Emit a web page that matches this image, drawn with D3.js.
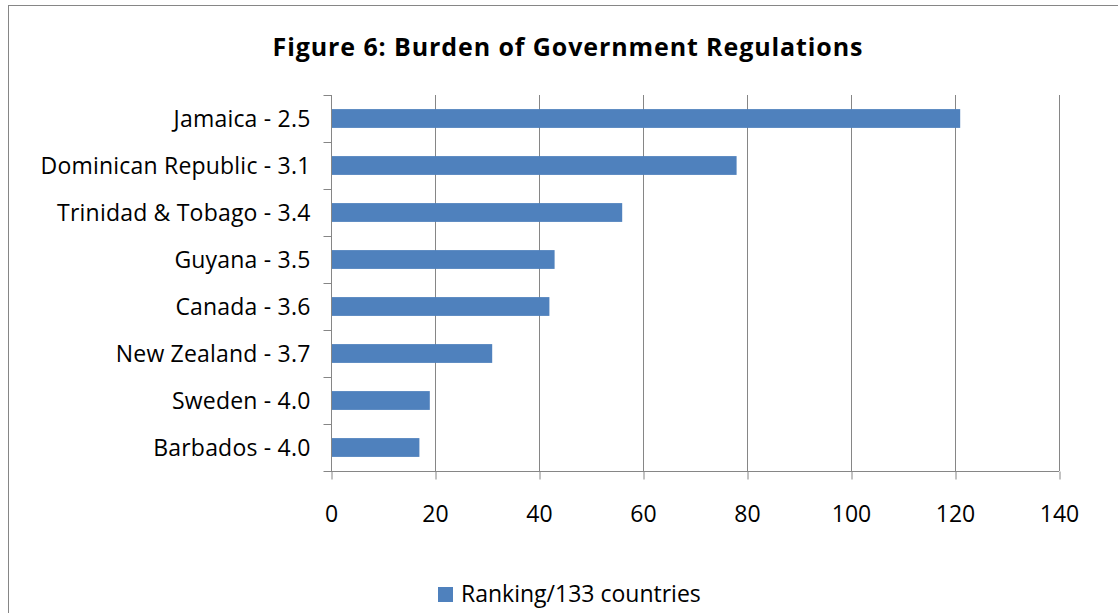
<!DOCTYPE html>
<html><head><meta charset="utf-8">
<script src="https://cdn.jsdelivr.net/npm/d3@7"></script>
<style>body{margin:0;background:#fff}svg{display:block}text{font-family:"Open Sans",sans-serif}</style>
</head><body>
<svg id="c" width="1118" height="613"></svg>
<script>
const categories = ["Jamaica - 2.5","Dominican Republic - 3.1","Trinidad & Tobago - 3.4","Guyana - 3.5","Canada - 3.6","New Zealand - 3.7","Sweden - 4.0","Barbados - 4.0"];
const values = [121, 78, 56, 43, 42, 31, 19, 17];
const xTicks = [0,20,40,60,80,100,120,140];
const seriesName = "Ranking/133 countries";
const title = "Figure 6: Burden of Government Regulations";

const svg = d3.select("#c");
const color = "#4f81bd", grid = "#868686";
svg.append("rect").attr("x",8.5).attr("y",5.5).attr("width",1130).attr("height",640).attr("fill","none").attr("stroke","#868686");

const m = {l:331, r:1059, t:95, b:471};
const x = d3.scaleLinear().domain([0,140]).range([m.l,m.r]);
const y = d3.scaleBand().domain(categories).range([m.t,m.b]).paddingInner(0.6).paddingOuter(0.3);

svg.append("g").selectAll("line").data(xTicks.slice(1)).join("line")
  .attr("x1",d=>x(d)+0.5).attr("x2",d=>x(d)+0.5).attr("y1",m.t).attr("y2",m.b)
  .attr("stroke",grid).attr("stroke-width",1);

svg.append("g").selectAll("rect").data(values).join("rect")
  .attr("x",x(0)).attr("y",(d,i)=>y(categories[i]))
  .attr("width",d=>x(d)-x(0)).attr("height",y.bandwidth()).attr("fill",color);

const xa = svg.append("g").attr("transform",`translate(0,${m.b+0.5})`)
  .call(d3.axisBottom(x).tickValues(xTicks).tickSize(8).tickPadding(26));
xa.select(".domain").attr("stroke",grid).attr("d",`M${m.l},0H${m.r}`);
xa.selectAll(".tick line").attr("stroke",grid).attr("transform","translate(0.5,0)");
xa.selectAll(".tick text").attr("font-size",23).attr("fill","#000").attr("font-family","Open Sans");

const step = (m.b-m.t)/categories.length;
const ya = svg.append("g").attr("transform",`translate(${m.l+0.5},0)`);
ya.append("line").attr("x1",0).attr("x2",0).attr("y1",m.t).attr("y2",m.b).attr("stroke",grid);
ya.selectAll("line.t").data(d3.range(categories.length+1)).join("line").attr("class","t")
  .attr("x1",-8).attr("x2",0).attr("y1",i=>m.t+i*step+0.5).attr("y2",i=>m.t+i*step+0.5).attr("stroke",grid);
ya.selectAll("text").data(categories).join("text")
  .attr("x",-21).attr("y",d=>y(d)+y.bandwidth()/2).attr("dy","0.36em")
  .attr("text-anchor","end").attr("font-size",23).attr("letter-spacing",0.2).attr("fill","#000").text(d=>d);

svg.append("text").attr("x",568).attr("y",56).attr("text-anchor","middle")
  .attr("font-size",25).attr("font-weight","bold").attr("letter-spacing",0.9).attr("fill","#000").text(title);

svg.append("rect").attr("x",438).attr("y",587).attr("width",15).attr("height",15).attr("fill",color);
svg.append("text").attr("x",461).attr("y",602).attr("font-size",23).attr("fill","#000").text(seriesName);
</script>
</body></html>
